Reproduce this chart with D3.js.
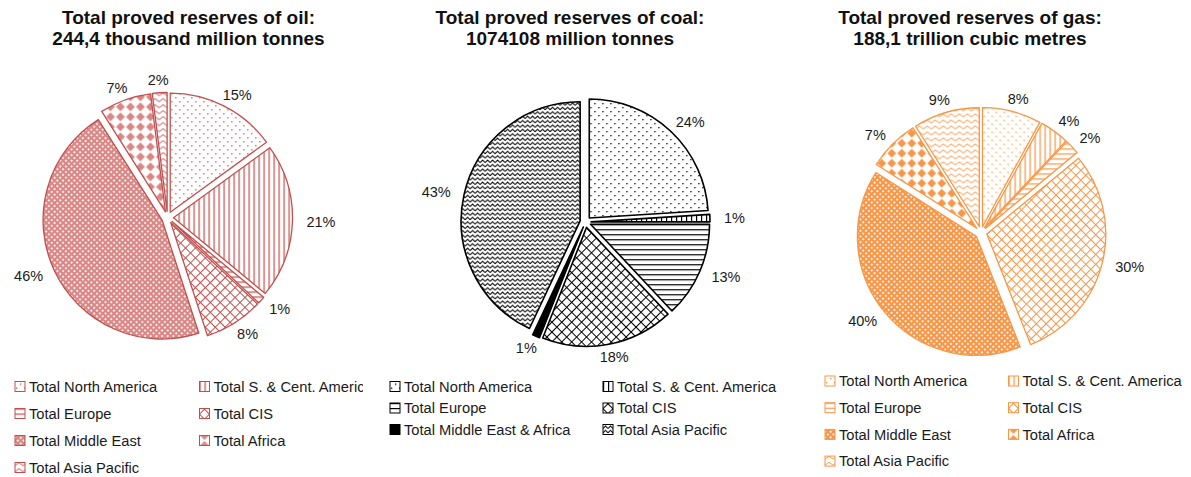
<!DOCTYPE html>
<html>
<head>
<meta charset="utf-8">
<script src="https://cdn.jsdelivr.net/npm/d3@7/dist/d3.min.js"></script>
<style>
    body { margin: 0; background: #fff; }
    svg text { font-family: Arial, "Liberation Sans", sans-serif; }
</style>
</head>
<body>
<div id="chart"></div>
<script>
// regions, clockwise from 12 o'clock
const oilRegions = ["Total North America", "Total S. & Cent. America", "Total Europe", "Total CIS",
    "Total Middle East", "Total Africa", "Total Asia Pacific"];
const oilShares = [15, 21, 1, 8, 46, 7, 2];

const coalRegions = ["Total North America", "Total S. & Cent. America", "Total Europe", "Total CIS",
    "Total Middle East & Africa", "Total Asia Pacific"];
const coalShares = [24, 1, 13, 18, 1, 43];

const gasRegions = ["Total North America", "Total S. & Cent. America", "Total Europe", "Total CIS",
    "Total Middle East", "Total Africa", "Total Asia Pacific"];
const gasShares = [8, 4, 2, 30, 40, 7, 9];

const oilTitle = ["Total proved reserves of oil:", "244,4 thousand million tonnes"];
const coalTitle = ["Total proved reserves of coal:", "1074108 million tonnes"];
const gasTitle = ["Total proved reserves of gas:", "188,1 trillion cubic metres"];

const svg = d3.select("#chart").append("svg")
    .attr("width", 1191)
    .attr("height", 477);
svg.append("rect").attr("width", 1191).attr("height", 477).attr("fill", "#fff");
const defs = svg.append("defs");

// hatch fills, one set per colour
function addPatterns(key, color, soft) {
    const pat = (name, w, h, tf) => {
        const p = defs.append("pattern")
            .attr("id", key + "-" + name)
            .attr("patternUnits", "userSpaceOnUse")
            .attr("width", w).attr("height", h);
        if (tf) p.attr("patternTransform", tf);
        p.append("rect").attr("width", w).attr("height", h).attr("fill", "#fff");
        return p;
    };

    let p = pat("dots", 8, 8);
    p.append("rect").attr("x", 1).attr("y", 1).attr("width", 1.3).attr("height", 1.3).attr("fill", color);
    p.append("rect").attr("x", 5).attr("y", 5).attr("width", 1.3).attr("height", 1.3).attr("fill", color);

    p = pat("vlines", 5, 5);
    p.append("rect").attr("width", 1.2).attr("height", 5).attr("fill", color);

    p = pat("hlines", 5, 5);
    p.append("rect").attr("width", 5).attr("height", 1.2).attr("fill", color);

    p = pat("cross", 7, 7, "rotate(45)");
    p.append("rect").attr("width", 1).attr("height", 7).attr("fill", color);
    p.append("rect").attr("width", 7).attr("height", 1).attr("fill", color);

    p = pat("dense", 4, 4, "rotate(45)");
    p.append("rect").attr("width", 4).attr("height", 4).attr("fill", soft);
    p.append("rect").attr("x", 1.2).attr("y", 1.2).attr("width", 1.8).attr("height", 1.8).attr("fill", "#fff");

    p = pat("diamond", 10, 10);
    p.append("polygon").attr("points", "5,0.6 9.4,5 5,9.4 0.6,5").attr("fill", soft);

    p = pat("wave", 8, 6);
    p.append("path").attr("d", "M0,4.2 L4,1.2 L8,4.2").attr("fill", "none")
        .attr("stroke", color).attr("stroke-width", 1);

    p = pat("zigzag", 5, 4.4);
    p.append("path").attr("d", "M0,3.3 L2.5,1 L5,3.3").attr("fill", "none")
        .attr("stroke", color).attr("stroke-width", 1);

    p = pat("solid", 4, 4);
    p.append("rect").attr("width", 4).attr("height", 4).attr("fill", color);
}

addPatterns("oil", "#c0504d", "#d98785");
addPatterns("coal", "#000", "#000");
addPatterns("gas", "#f79646", "#f79646");

class PieD3 {
    radius = 119;
    explode = 6;
    labelSize = "14.5px";
    legendSize = "14.7px";

    constructor(cfg) {
        this.cfg = cfg;
    }

    midAngle(d) {
        return (d.startAngle + d.endAngle) / 2;
    }

    render(regions, shares, title) {
        const cfg = this.cfg;
        const data = regions.map((name, i) => ({name: name, value: shares[i], pattern: cfg.patterns[i]}));
        const arcs = d3.pie().sort(null).value(d => d.value)(data);
        const arc = d3.arc().innerRadius(0).outerRadius(this.radius);
        const ex = cfg.explode ?? this.explode;

        // title, two lines
        svg.append("text")
            .attr("x", cfg.titleX).attr("y", 24)
            .attr("text-anchor", "middle")
            .style("font-size", "19px").style("font-weight", "bold")
            .attr("fill", "#111")
            .selectAll("tspan").data(title).join("tspan")
            .attr("x", cfg.titleX)
            .attr("y", (d, i) => 24 + i * 21)
            .text(d => d);

        const g = svg.append("g")
            .attr("transform", `translate(${cfg.cx},${cfg.cy})`);

        g.selectAll(".slice")
            .data(arcs)
            .join("path")
            .attr("class", "slice")
            .attr("transform", d => {
                const a = this.midAngle(d);
                return `translate(${Math.sin(a) * ex},${-Math.cos(a) * ex})`;
            })
            .attr("d", arc)
            .attr("fill", d => `url(#${cfg.key}-${d.data.pattern})`)
            .attr("stroke", cfg.color)
            .attr("stroke-width", cfg.strokeWidth)
            .attr("stroke-linejoin", "round");

        // percentage labels just outside each slice
        const r = this.radius + ex;
        g.selectAll(".pct")
            .data(arcs)
            .join("text")
            .attr("class", "pct")
            .attr("text-anchor", "middle")
            .attr("dy", "0.35em")
            .style("font-size", this.labelSize)
            .attr("fill", "#1a1a1a")
            .text(d => d.data.value + "%")
            .each(function (d) {
                const a = (d.startAngle + d.endAngle) / 2;
                const s = Math.sin(a), c = -Math.cos(a);
                const w = this.getComputedTextLength() / 2;
                d3.select(this)
                    .attr("x", s * (r + 14 + w))
                    .attr("y", c * (r + 6 + 7));
            });

        // legend, two columns
        const lg = svg.append("g");
        if (cfg.legend.clip) {
            defs.append("clipPath").attr("id", cfg.key + "-clip")
                .append("rect").attr("x", 0).attr("y", 360).attr("width", cfg.legend.clip).attr("height", 117);
            lg.attr("clip-path", `url(#${cfg.key}-clip)`);
        }
        const item = lg.selectAll(".legendItem")
            .data(data)
            .join("g")
            .attr("class", "legendItem")
            .attr("transform", (d, i) => {
                const x = cfg.legend.cols[i % 2];
                const y = cfg.legend.y0 + Math.floor(i / 2) * cfg.legend.dy;
                return `translate(${x},${y})`;
            });
        item.append("rect")
            .attr("x", 0).attr("y", -5)
            .attr("width", 10).attr("height", 10)
            .attr("fill", d => `url(#${cfg.key}-${d.pattern})`)
            .attr("stroke", cfg.color)
            .attr("stroke-width", 1);
        item.append("text")
            .attr("x", 14).attr("dy", "0.35em")
            .style("font-size", this.legendSize)
            .attr("fill", "#1a1a1a")
            .text(d => d.name);
    }
}

new PieD3({
    key: "oil", cx: 167.5, cy: 217.5, titleX: 188.5,
    color: "#c0504d", strokeWidth: 1.3,
    patterns: ["dots", "vlines", "hlines", "cross", "dense", "diamond", "wave"],
    legend: {cols: [15, 199.5], y0: 386.5, dy: 27, clip: 363}
}).render(oilRegions, oilShares, oilTitle);

new PieD3({
    key: "coal", cx: 585.5, cy: 222, titleX: 570, explode: 5.5,
    color: "#000", strokeWidth: 1.6,
    patterns: ["dots", "vlines", "hlines", "cross", "solid", "zigzag"],
    legend: {cols: [390, 603], y0: 386.5, dy: 21.5}
}).render(coalRegions, coalShares, coalTitle);

new PieD3({
    key: "gas", cx: 981, cy: 232.5, titleX: 970,
    color: "#f79646", strokeWidth: 1.3,
    patterns: ["dots", "vlines", "hlines", "cross", "dense", "diamond", "wave"],
    legend: {cols: [825, 1008.5], y0: 381, dy: 26.7}
}).render(gasRegions, gasShares, gasTitle);
</script>
</body>
</html>
